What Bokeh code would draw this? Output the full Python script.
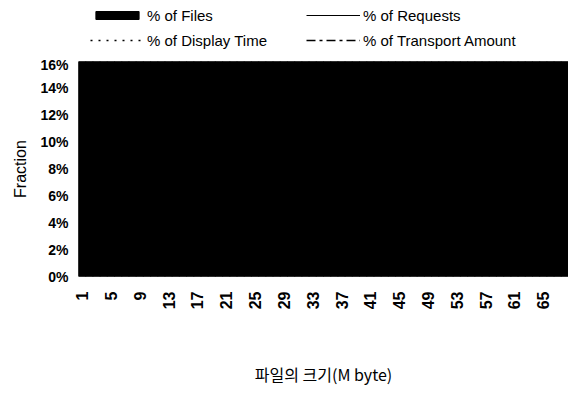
import math
from bokeh.plotting import figure
from bokeh.layouts import column
from bokeh.models import (Legend, LegendItem, FixedTicker, PrintfTickFormatter,
                          Range1d, ColumnDataSource)
from bokeh.embed import file_html
from bokeh.resources import INLINE

NaN = float("nan")

# ---- data (the whole plot area is black up to 16%) ----
file_sizes = [1, 2, 3, 4, 5, 6, 7, 8, 9, 10, 11, 12, 13, 14, 15, 16, 17, 18, 19, 20,
              21, 22, 23, 24, 25, 26, 27, 28, 29, 30, 31, 32, 33, 34, 35, 36, 37, 38, 39, 40,
              41, 42, 43, 44, 45, 46, 47, 48, 49, 50, 51, 52, 53, 54, 55, 56, 57, 58, 59, 60,
              61, 62, 63, 64, 65, 66, 67, 68]
pct_files = [16, 16, 16, 16, 16, 16, 16, 16, 16, 16, 16, 16, 16, 16, 16, 16, 16, 16, 16, 16,
             16, 16, 16, 16, 16, 16, 16, 16, 16, 16, 16, 16, 16, 16, 16, 16, 16, 16, 16, 16,
             16, 16, 16, 16, 16, 16, 16, 16, 16, 16, 16, 16, 16, 16, 16, 16, 16, 16, 16, 16,
             16, 16, 16, 16, 16, 16, 16, 16]
# the three line series cannot be told apart in the (fully black) scan: unknown values
req_x, pct_requests = [NaN], [NaN]
disp_x, pct_display = [NaN], [NaN]
trans_x, pct_transport = [NaN], [NaN]

x_ticks = [1, 5, 9, 13, 17, 21, 25, 29, 33, 37, 41, 45, 49, 53, 57, 61, 65]
y_ticks = [0, 2, 4, 6, 8, 10, 12, 14, 16]

series_labels = ["% of Files", "% of Requests", "% of Display Time", "% of Transport Amount"]

FIG_W = 568
LEG_H = 56

# ------------------------------------------------------------------ main chart
p = figure(width=FIG_W, height=389 - LEG_H, output_backend="svg", toolbar_location=None,
           x_range=Range1d(0.5, 68.5), y_range=Range1d(0, 16),
           min_border_left=78, min_border_right=0, min_border_top=5,
           min_border_bottom=108)
p.background_fill_color = "black"
p.outline_line_color = None
p.xgrid.visible = False
p.ygrid.visible = False

src = ColumnDataSource(dict(x=file_sizes, top=pct_files))
p.vbar(x="x", top="top", width=1.0, source=src, fill_color="black", line_color="black")
p.line(req_x, pct_requests, line_color="black", line_width=1)
p.line(disp_x, pct_display, line_color="black", line_width=1.5, line_dash="2 6")
p.line(trans_x, pct_transport, line_color="black", line_width=1.5, line_dash="9 4 3 4")

p.xaxis.ticker = FixedTicker(ticks=x_ticks)
p.xaxis.major_label_orientation = math.pi / 2
p.yaxis.ticker = FixedTicker(ticks=y_ticks)
p.yaxis.formatter = PrintfTickFormatter(format="%d%%")
for ax in (p.xaxis[0], p.yaxis[0]):
    ax.axis_line_color = None
    ax.major_tick_line_color = None
    ax.minor_tick_line_color = None
    ax.major_tick_out = 0
    ax.major_tick_in = 0
    ax.major_label_text_font = "Liberation Sans"
    ax.major_label_text_font_style = "bold"
    ax.major_label_text_color = "black"
    ax.axis_label_text_color = "black"
    ax.axis_label_text_font_style = "normal"
    ax.axis_label_text_font_size = "16px"
p.xaxis.major_label_text_font_size = "16px"
p.yaxis.major_label_text_font_size = "14px"
p.xaxis.major_label_standoff = 15
p.yaxis.major_label_standoff = 10
p.xaxis.axis_label = "파일의 크기(M byte)"
p.xaxis.axis_label_text_font = "Noto Sans CJK KR"
p.xaxis.axis_label_standoff = 50
p.yaxis.axis_label = "Fraction"
p.yaxis.axis_label_text_font = "Liberation Sans"
p.yaxis.axis_label_standoff = 8

# ------------------------------------------------------------------ legend strip
lf = figure(width=FIG_W, height=LEG_H, output_backend="svg", toolbar_location=None,
            x_range=Range1d(0, 1), y_range=Range1d(0, 1), min_border=0,
            x_axis_location=None, y_axis_location=None)
lf.outline_line_color = None
lf.xgrid.visible = False
lf.ygrid.visible = False
g_files = lf.vbar(x=[NaN], top=[NaN], width=1.0, fill_color="black", line_color="black")
g_req = lf.line([NaN], [NaN], line_color="black", line_width=1)
g_disp = lf.line([NaN], [NaN], line_color="black", line_width=1.5, line_dash="2 6")
g_trans = lf.line([NaN], [NaN], line_color="black", line_width=1.5, line_dash="9 4 3 4")


def make_legend(items, loc):
    lg = Legend(items=items, orientation="horizontal", location=loc)
    lg.glyph_width = 54
    lg.glyph_height = 10
    lg.label_height = 18
    lg.label_width = 159
    lg.label_standoff = 3
    lg.spacing = 0
    lg.padding = 3
    lg.margin = 0
    lg.border_line_color = None
    lg.background_fill_alpha = 0
    lg.label_text_font = "Liberation Sans"
    lg.label_text_font_size = "15px"
    lg.label_text_color = "black"
    return lg


lf.add_layout(make_legend([
    LegendItem(label=series_labels[0], renderers=[g_files]),
    LegendItem(label=series_labels[1], renderers=[g_req]),
], (12, 32)))
lf.add_layout(make_legend([
    LegendItem(label=series_labels[2], renderers=[g_disp]),
    LegendItem(label=series_labels[3], renderers=[g_trans]),
], (12, 7)))

layout = column(lf, p, spacing=0)
open("out.html", "w").write(file_html(layout, INLINE))
